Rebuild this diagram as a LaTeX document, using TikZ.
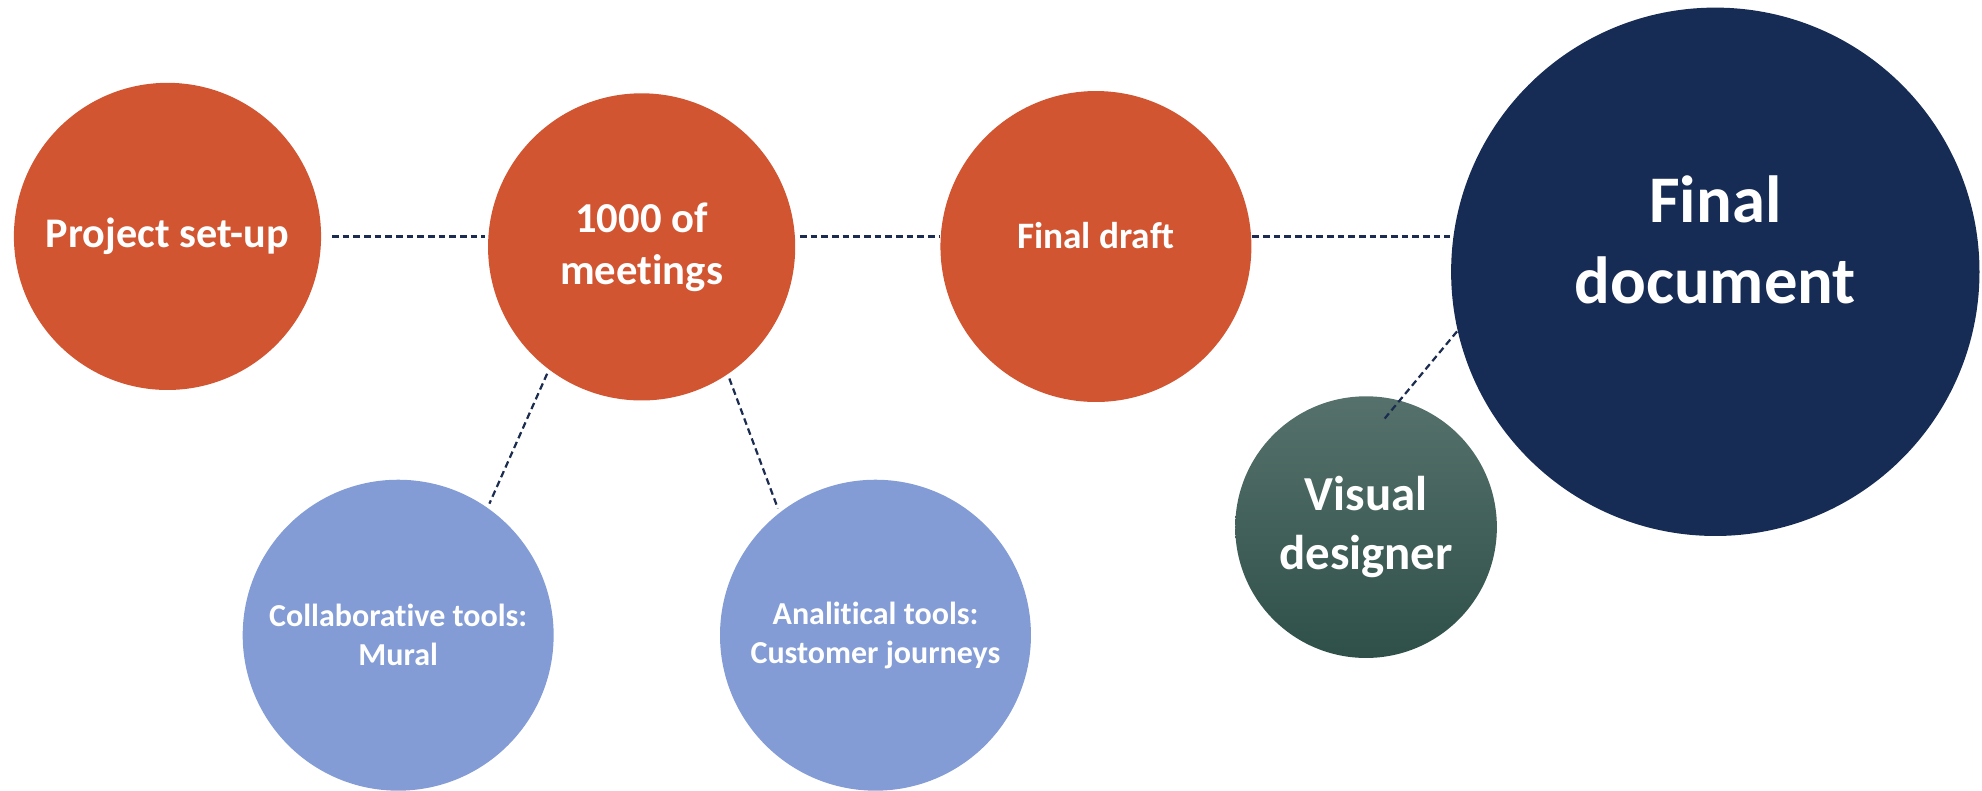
\documentclass[tikz,border=0pt]{standalone}
\usepackage{fontspec}
\setmainfont{Carlito}[Ligatures=NoCommon]
\usetikzlibrary{calc}
\definecolor{step orange}{HTML}{D25532}
\definecolor{tool blue}{HTML}{839CD6}
\definecolor{final navy}{HTML}{172C55}
\definecolor{designer top}{HTML}{56716B}
\definecolor{designer bottom}{HTML}{2E5049}
\definecolor{link navy}{HTML}{1C2C50}
\tikzset{
    disk/.style={circle, inner sep=0pt, minimum size=#1, text=white, align=center},
    blank/.style={text=white, inner sep=0pt, align=center},
    link/.style={link navy, line width=0.5pt, dash pattern=on 1.5pt off 0.9pt},
}

\begin{document}
\begin{tikzpicture}
    \useasboundingbox (0,0) rectangle (15.68,-6.25);
    % steps
    \node[disk=2.43cm, fill=step orange, font=\bfseries\fontsize{9.5}{11.4}\selectfont] (setup) at (1.325,-1.87) {Project set-up};
    \node[disk=2.43cm, fill=step orange, font=\bfseries\fontsize{9.6}{11.7}\selectfont] (meet) at (5.076,-1.953) {1000 of\\meetings};
    \node[disk=2.46cm, fill=step orange] (draft) at (8.67,-1.95) {};
    \node[blank, font=\bfseries\fontsize{8.4}{10}\selectfont] (drafttext) at ([yshift=0.085cm]draft.center) {Final draft};
    \node[disk=4.18cm, fill=final navy] (fdoc) at (13.57,-2.15) {};
    \node[blank, font=\bfseries\fontsize{15}{18.2}\selectfont] (fdoctext) at ([yshift=0.25cm]fdoc.center) {Final\\document};
    % helpers
    \node[disk=2.07cm, top color=designer top, bottom color=designer bottom, font=\bfseries\fontsize{11}{13.4}\selectfont] (vis) at (10.807,-4.17) {Visual\\designer};
    \node[disk=2.46cm, fill=tool blue, font=\bfseries\fontsize{7.2}{8.8}\selectfont] (collab) at (3.15,-5.025) {Collaborative tools:\\Mural};
    \node[disk=2.46cm, fill=tool blue, font=\bfseries\fontsize{7.2}{8.8}\selectfont] (anal) at (6.926,-5.025) {Analitical tools:\\Customer journeys};
    % links
    \draw[link, shorten <=0.08cm, shorten >=0.02cm] (setup.east) -- (setup.east -| meet.west);
    \draw[link, shorten <=0.03cm] (setup.east -| meet.east) -- (setup.east -| draft.west);
    \draw[link] (setup.east -| draft.east) -- (setup.east -| fdoc.west);
    \draw[link, shorten <=0.03cm, shorten >=0.03cm] (meet.233) -- (collab.55);
    \draw[link, shorten <=0.03cm, shorten >=0.03cm] (meet.304) -- (anal.128);
    \draw[link, shorten >=-0.196cm] (fdoc.193) -- (vis.75);
\end{tikzpicture}
\end{document}
